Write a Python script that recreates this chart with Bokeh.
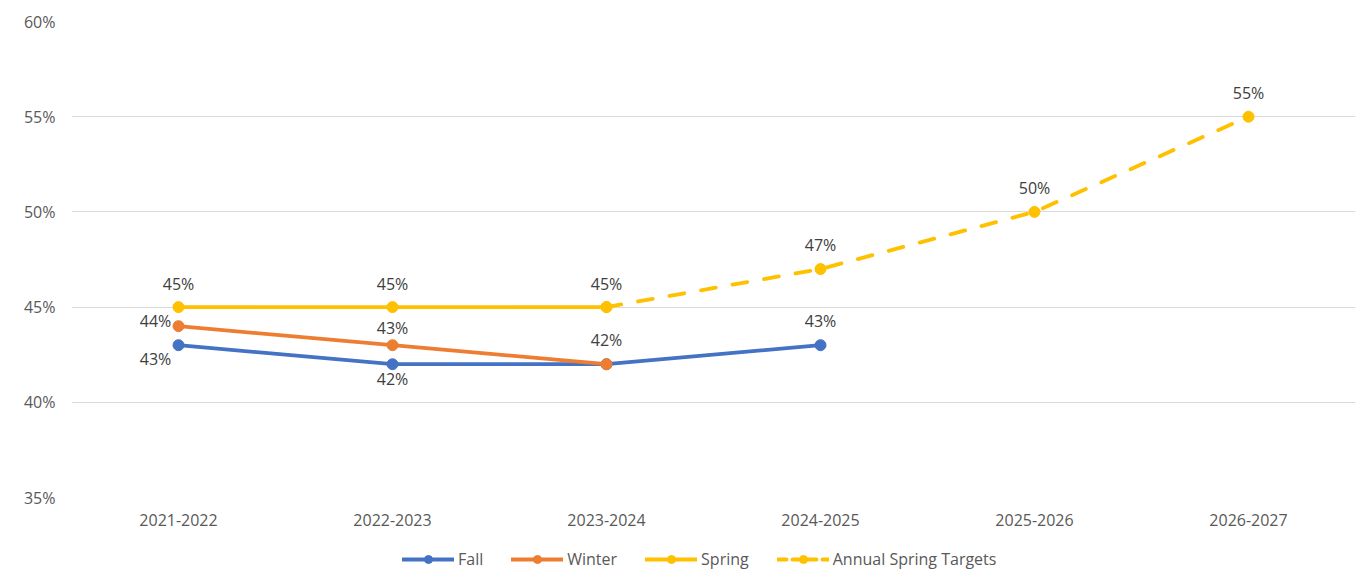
from bokeh.plotting import figure
from bokeh.layouts import column
from bokeh.models import (ColumnDataSource, LabelSet, Legend, LegendItem,
                          FixedTicker, PrintfTickFormatter, Range1d)
from bokeh.core.properties import value
from bokeh.embed import file_html
from bokeh.resources import INLINE

# ---------------- data ----------------
years = ["2021-2022", "2022-2023", "2023-2024", "2024-2025", "2025-2026", "2026-2027"]
nan = float("nan")
fall = [43, 42, 42, 43, nan, nan]
winter = [44, 43, 42, nan, nan, nan]
spring = [45, 45, 45, nan, nan, nan]
targets = [nan, nan, 45, 47, 50, 55]
y_ticks = [35, 40, 45, 50, 55, 60]
series_names = ["Fall", "Winter", "Spring", "Annual Spring Targets"]

# ---------------- style ----------------
FONT = "Open Sans"
C_FALL = "#4472C4"
C_WINTER = "#ED7D31"
C_SPRING = "#FFC000"
GRID = "#D9D9D9"
TICK_TXT = "#595959"
LBL_TXT = "#404040"
DASH = "15 17"

p = figure(width=1358, height=532, x_range=years, y_range=Range1d(35, 60),
           output_backend="svg", toolbar_location=None,
           min_border_left=71, min_border_right=3, min_border_top=21,
           min_border_bottom=35)
p.outline_line_color = None
p.xgrid.grid_line_color = None
p.ygrid.grid_line_color = GRID
p.ygrid.grid_line_width = 1
p.yaxis.ticker = FixedTicker(ticks=y_ticks)
p.yaxis.formatter = PrintfTickFormatter(format="%d%%")
for ax in (p.xaxis, p.yaxis):
    ax.axis_line_color = None
    ax.major_tick_line_color = None
    ax.minor_tick_line_color = None
    ax.major_tick_out = 0
    ax.major_tick_in = 0
    ax.major_label_text_font = FONT
    ax.major_label_text_font_size = "16px"
    ax.major_label_text_color = TICK_TXT
p.yaxis.major_label_standoff = 16
p.xaxis.major_label_standoff = 16


def series(fig, xs, vals, color, dash="solid"):
    src = ColumnDataSource(dict(x=xs, y=vals))
    ln = fig.line("x", "y", source=src, line_color=color, line_width=3.8,
                  line_cap="round", line_join="round", line_dash=dash)
    sc = fig.scatter("x", "y", source=src, size=11, fill_color=color,
                     line_color=color)
    return [ln, sc]


series(p, years, fall, C_FALL)
series(p, years, winter, C_WINTER)
series(p, years, spring, C_SPRING)
series(p, years, targets, C_SPRING, dash=DASH)

# data labels: (series values, index, x offset, y offset)
label_spec = [
    (fall, 0, -23, -14), (fall, 1, 0, -15), (fall, 3, 0, 24),
    (winter, 0, -23, 5), (winter, 1, 0, 17), (winter, 2, 0, 24),
    (spring, 0, 0, 23), (spring, 1, 0, 23), (spring, 2, 0, 23),
    (targets, 3, 0, 24), (targets, 4, 0, 24), (targets, 5, 0, 24),
]
lx, ly, lt, ox, oy = [], [], [], [], []
for vals, i, dx, dy in label_spec:
    lx.append(years[i]); ly.append(vals[i]); lt.append(f"{vals[i]:.0f}%")
    ox.append(dx); oy.append(dy)
lsrc = ColumnDataSource(dict(x=lx, y=ly, t=lt, ox=ox, oy=oy))
labels = LabelSet(x="x", y="y", text="t", source=lsrc, x_offset="ox", y_offset="oy",
                  text_align="center", text_baseline="middle",
                  text_font=value(FONT), text_font_size=value("16px"),
                  text_color=LBL_TXT)
p.add_layout(labels)

# ---------------- legend strip ----------------
lg = figure(width=1358, height=53, x_range=Range1d(0, 1), y_range=Range1d(0, 1),
            output_backend="svg", toolbar_location=None,
            min_border_left=0, min_border_right=0, min_border_top=0,
            min_border_bottom=0)
lg.axis.visible = False
lg.grid.grid_line_color = None
lg.outline_line_color = None
colors = [C_FALL, C_WINTER, C_SPRING, C_SPRING]
dashes = ["solid", "solid", "solid", "9 6"]
items = []
for name, c, d in zip(series_names, colors, dashes):
    rs = series(lg, [nan], [nan], c, dash=d)   # legend proxies, draw nothing
    items.append(LegendItem(label=name, renderers=rs))
legend = Legend(items=items, orientation="horizontal", location=(331, 15),
                label_text_font=FONT, label_text_font_size="16px",
                label_text_color=TICK_TXT, glyph_width=52, glyph_height=20,
                label_standoff=4, spacing=28, border_line_color=None,
                background_fill_alpha=0, margin=0, padding=6)
lg.add_layout(legend, "center")

layout = column(p, lg, spacing=0)
open("out.html", "w").write(file_html(layout, INLINE))
